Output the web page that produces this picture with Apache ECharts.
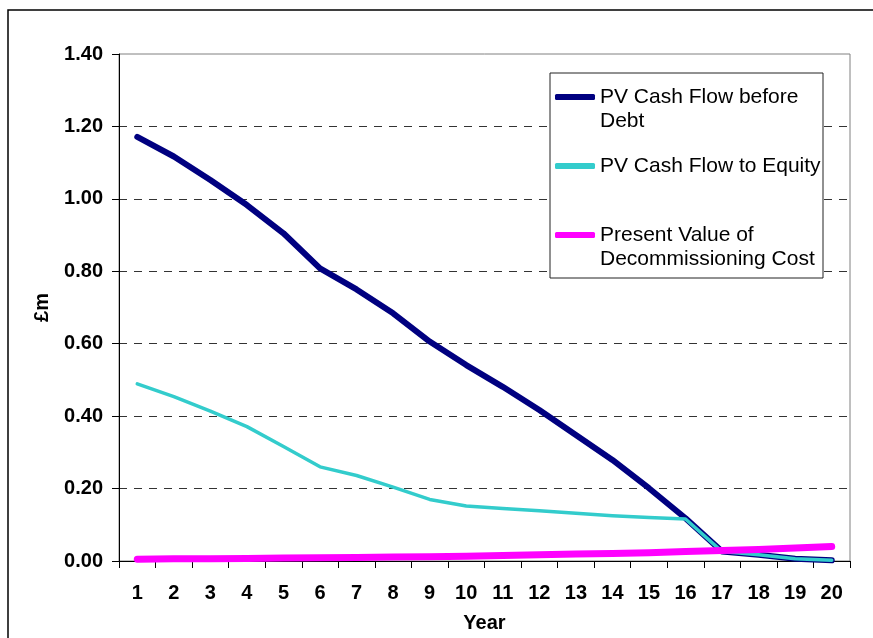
<!DOCTYPE html>
<html>
<head>
<meta charset="utf-8">
<script src="https://cdn.jsdelivr.net/npm/echarts@6/dist/echarts.min.js"></script>
<style>
html,body{margin:0;padding:0;background:#fff;}
#chart{width:873px;height:638px;}
</style>
</head>
<body>
<div id="chart"></div>
<script>
var years = ['1','2','3','4','5','6','7','8','9','10','11','12','13','14','15','16','17','18','19','20'];
var yTicks = {min: 0, max: 1.4, interval: 0.2};
var cashBeforeDebt = [1.171, 1.117, 1.052, 0.983, 0.905, 0.808, 0.750, 0.684, 0.606, 0.541, 0.481, 0.417, 0.348, 0.279, 0.201, 0.118, 0.026, 0.017, 0.006, 0.002];
var cashToEquity   = [0.489, 0.454, 0.414, 0.371, 0.316, 0.260, 0.236, 0.204, 0.170, 0.152, 0.145, 0.139, 0.132, 0.125, 0.120, 0.116, 0.026, 0.017, 0.006, 0.002];
var decommissioning = [0.005, 0.006, 0.006, 0.007, 0.008, 0.009, 0.010, 0.011, 0.012, 0.013, 0.015, 0.017, 0.019, 0.021, 0.023, 0.026, 0.029, 0.032, 0.036, 0.040];
var seriesNames = ['PV Cash Flow before\nDebt', 'PV Cash Flow to Equity', 'Present Value of\nDecommissioning Cost'];
var seriesColors = ['#000080', '#33CCCC', '#FF00FF'];
var xName = 'Year';
var yName = '£m';

var FONT = '"Liberation Sans", Arial, Helvetica, sans-serif';
var chart = echarts.init(document.getElementById('chart'), null, {renderer: 'canvas'});

chart.setOption({
  animation: false,
  backgroundColor: '#ffffff',
  grid: {
    left: 119, right: 23, top: 54, bottom: 77,
    show: true, borderColor: '#808080', borderWidth: 1, backgroundColor: 'transparent'
  },
  graphic: [
    {type: 'rect', shape: {x: 8, y: 10, width: 880, height: 650}, style: {fill: 'none', stroke: '#000', lineWidth: 1.5}, silent: true, z: -1},
    {type: 'rect', shape: {x: 550, y: 73, width: 273, height: 205}, style: {fill: '#fff', stroke: '#222', lineWidth: 1}, silent: true, z: 5}
  ],
  legend: {
    orient: 'vertical',
    left: 555, top: 61,
    padding: 0,
    itemGap: 21,
    itemWidth: 40, itemHeight: 6,
    icon: 'roundRect',
    z: 10,
    textStyle: {fontFamily: FONT, fontSize: 21, color: '#000', lineHeight: 24},
    formatter: function (name) {
      return name.indexOf('\n') >= 0 ? ' \n' + name : name;
    },
    data: seriesNames.map(function (n, i) {
      return {name: n, itemStyle: {color: seriesColors[i]}};
    })
  },
  xAxis: {
    type: 'category',
    data: years,
    boundaryGap: true,
    name: xName,
    nameLocation: 'middle',
    nameGap: 52,
    nameTextStyle: {fontFamily: FONT, fontSize: 20, fontWeight: 'bold', color: '#000'},
    axisLine: {lineStyle: {color: '#000', width: 1}},
    axisTick: {show: true, alignWithLabel: false, length: 7, lineStyle: {color: '#000'}},
    axisLabel: {fontFamily: FONT, fontSize: 20, fontWeight: 'bold', color: '#000', margin: 22, interval: 0},
    splitLine: {show: false}
  },
  yAxis: {
    type: 'value',
    min: yTicks.min, max: yTicks.max, interval: yTicks.interval,
    name: yName,
    nameLocation: 'middle',
    nameGap: 67,
    nameRotate: 90,
    nameTextStyle: {fontFamily: FONT, fontSize: 20, fontWeight: 'bold', color: '#000'},
    axisLine: {show: true, lineStyle: {color: '#000', width: 1}},
    axisTick: {show: true, length: 7, lineStyle: {color: '#000'}},
    axisLabel: {fontFamily: FONT, fontSize: 20, fontWeight: 'bold', color: '#000', margin: 16,
      formatter: function (v) { return v.toFixed(2); }},
    splitLine: {show: true, showMinLine: false, showMaxLine: false,
      lineStyle: {color: '#333', width: 1, type: [8, 7]}}
  },
  series: [
    {name: seriesNames[0], type: 'line', data: cashBeforeDebt, symbol: 'none', showSymbol: false,
      lineStyle: {color: seriesColors[0], width: 6, cap: 'round', join: 'round'}, itemStyle: {color: seriesColors[0]}, z: 2},
    {name: seriesNames[1], type: 'line', data: cashToEquity, symbol: 'none', showSymbol: false,
      lineStyle: {color: seriesColors[1], width: 3.5, cap: 'round', join: 'round'}, itemStyle: {color: seriesColors[1]}, z: 3},
    {name: seriesNames[2], type: 'line', data: decommissioning, symbol: 'none', showSymbol: false,
      lineStyle: {color: seriesColors[2], width: 7, cap: 'round', join: 'round'}, itemStyle: {color: seriesColors[2]}, z: 4}
  ]
});
</script>
</body>
</html>
